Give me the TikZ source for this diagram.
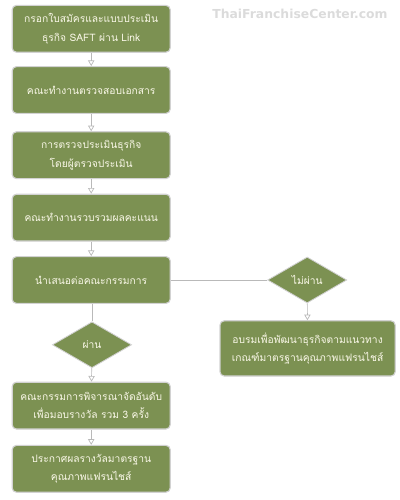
\documentclass[tikz,border=0pt]{standalone}
\usepackage{fontspec}
\newfontfamily\thaifont[Script=Thai]{Loma}
\setsansfont{DejaVu Sans}
\usepackage{xcolor}
\usepackage{tikz}
\usetikzlibrary{arrows.meta,positioning,shapes.geometric,calc}
\definecolor{boxgreen}{RGB}{124,145,82}
\definecolor{boxtext}{RGB}{250,248,232}

\begin{document}
\begin{tikzpicture}[font=\thaifont\fontsize{7.3}{13}\selectfont,
  stepbox/.style={draw=gray!35,line width=0.8pt,fill=boxgreen,text=boxtext,rounded corners=3pt,
    minimum width=3.95cm,minimum height=1.17cm,align=center,inner sep=2pt},
  decide/.style={diamond,draw=gray!35,line width=0.6pt,fill=boxgreen,text=boxtext,
    minimum width=1.98cm,minimum height=1.15cm,inner sep=0pt},
  link/.style={draw=gray!55,line width=0.5pt},
  flow/.style={link,-{Triangle[open,length=4pt,width=4.5pt]}}]
\useasboundingbox (0,0) rectangle (10,-12.5);
\node[font=\sffamily\bfseries\fontsize{8.8}{11}\selectfont,text=gray!28] (mark) at (7.5,-0.34) {ThaiFranchiseCenter.com};
\node[stepbox] (apply) at (2.28,-0.72) {กรอกใบสมัครและแบบประเมิน\\ธุรกิจ SAFT ผ่าน Link};
\node[stepbox] (docs) at (2.28,-2.25) {คณะทำงานตรวจสอบเอกสาร};
\node[stepbox] (audit) at (2.28,-3.88) {การตรวจประเมินธุรกิจ\\โดยผู้ตรวจประเมิน};
\node[stepbox] (score) at (2.28,-5.44) {คณะทำงานรวบรวมผลคะแนน};
\node[stepbox] (board) at (2.28,-7.0) {นำเสนอต่อคณะกรรมการ};
\node[decide] (fail) at (7.68,-7.0) {ไม่ผ่าน};
\node[stepbox,minimum width=4.38cm,minimum height=1.38cm] (train) at (7.69,-8.71) {อบรมเพื่อพัฒนาธุรกิจตามแนวทาง\\เกณฑ์มาตรฐานคุณภาพแฟรนไชส์};
\node[decide] (pass) at (2.3,-8.62) {ผ่าน};
\node[stepbox] (rank) at (2.28,-10.14) {คณะกรรมการพิจารณาจัดอันดับ\\เพื่อมอบรางวัล รวม 3 ครั้ง};
\node[stepbox] (award) at (2.28,-11.72) {ประกาศผลรางวัลมาตรฐาน\\คุณภาพแฟรนไชส์};
\draw[flow] (apply) -- (docs);
\draw[flow] (docs) -- (audit);
\draw[flow] (audit) -- (score);
\draw[flow] (score) -- (board);
\draw[link] (board) -- (fail);
\draw[flow] (fail) -- (train);
\draw[link] (board.south -| pass.north) -- (pass);
\draw[flow] (pass) -- (rank);
\draw[flow] (rank) -- (award);
\end{tikzpicture}
\end{document}
